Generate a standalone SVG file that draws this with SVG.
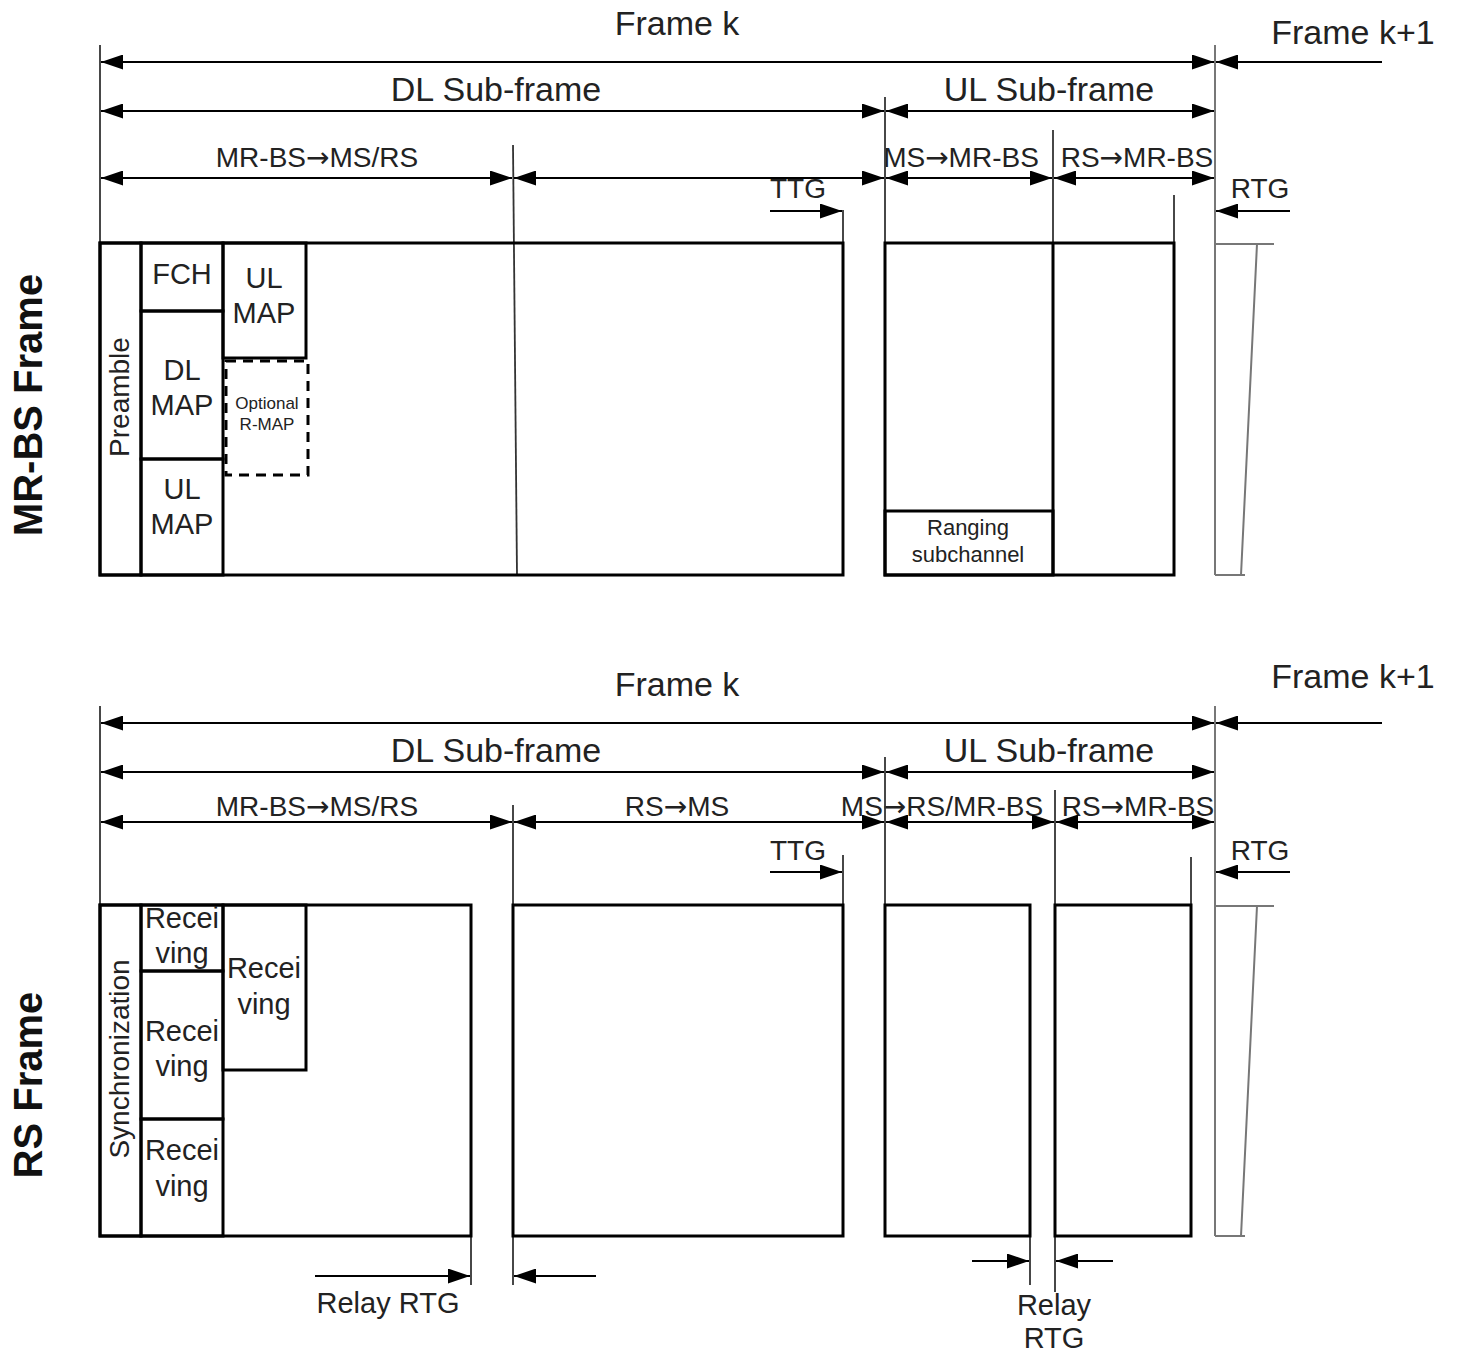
<svg xmlns="http://www.w3.org/2000/svg" width="1458" height="1355" viewBox="0 0 1458 1355">
<defs>
<marker id="ah" markerUnits="userSpaceOnUse" markerWidth="22" markerHeight="15" refX="22" refY="7.5" orient="auto-start-reverse" viewBox="0 0 22 15">
<path d="M0,0 L22,7.5 L0,15 z" fill="#000"/>
</marker>
</defs>
<style>
text{font-family:"Liberation Sans",Arial,sans-serif;fill:#222;text-anchor:middle}
.arr{font-family:"DejaVu Sans",sans-serif}
.big{font-size:34px}
.mid{font-size:28px}
.box{font-size:29px}
.side{font-size:40px;font-weight:bold;fill:#111}
.sm{font-size:17px}
.rg{font-size:22px}
.b{fill:none;stroke:#000;stroke-width:3}
.dash{fill:none;stroke:#000;stroke-width:3;stroke-dasharray:10,7}
.a{stroke:#000;stroke-width:1.8;fill:none;marker-start:url(#ah);marker-end:url(#ah)}
.a1{stroke:#000;stroke-width:1.8;fill:none;marker-end:url(#ah)}
.v{stroke:#333;stroke-width:1.8;fill:none}
.g{stroke:#777;stroke-width:2;fill:none}
</style>
<rect width="1458" height="1355" fill="#fff"/>

<!-- ===== MR-BS Frame (top) ===== -->
<g id="top-labels">
<text class="big" x="677" y="35">Frame k</text>
<text class="big" x="1353" y="44">Frame k+1</text>
<text class="big" x="496" y="101">DL Sub-frame</text>
<text class="big" x="1049" y="101">UL Sub-frame</text>
<text class="mid" x="317" y="167">MR-BS<tspan class="arr">→</tspan>MS/RS</text>
<text class="mid" x="961" y="167">MS<tspan class="arr">→</tspan>MR-BS</text>
<text class="mid" x="1137" y="167">RS<tspan class="arr">→</tspan>MR-BS</text>
<text class="mid" x="798" y="198">TTG</text>
<text class="mid" x="1260" y="198">RTG</text>
<text class="side" transform="translate(42,405) rotate(-90)">MR-BS Frame</text>
</g>

<g id="top-connectors">
<line class="v" x1="100" y1="45" x2="100" y2="575"/>
<line class="v" x1="513" y1="145" x2="517" y2="575"/>
<line class="v" x1="885" y1="97" x2="885" y2="243"/>
<line class="v" x1="1053" y1="130" x2="1053" y2="243"/>
<line class="v" x1="843" y1="210" x2="843" y2="243"/>
<line class="v" x1="1174" y1="195" x2="1174" y2="243"/>
<line class="g" x1="1215" y1="45" x2="1215" y2="575"/>
<line class="a" x1="101" y1="62" x2="1214" y2="62"/>
<line class="a1" x1="1382" y1="62" x2="1216" y2="62"/>
<line class="a" x1="101" y1="111" x2="884" y2="111"/>
<line class="a" x1="886" y1="111" x2="1214" y2="111"/>
<line class="a" x1="101" y1="178" x2="512" y2="178"/>
<line class="a" x1="514" y1="178" x2="884" y2="178"/>
<line class="a" x1="886" y1="178" x2="1052" y2="178"/>
<line class="a" x1="1054" y1="178" x2="1214" y2="178"/>
<line class="a1" x1="770" y1="211" x2="842" y2="211"/>
<line class="a1" x1="1290" y1="211" x2="1216" y2="211"/>
</g>

<g id="top-dl-box">
<rect class="b" x="100" y="243" width="743" height="332"/>
</g>
<g id="preamble">
<rect class="b" x="100" y="243" width="41" height="332"/>
<text class="mid" transform="translate(129,397) rotate(-90)">Preamble</text>
</g>
<g id="fch">
<rect class="b" x="141" y="243" width="82" height="68"/>
<text class="box" x="182" y="284">FCH</text>
</g>
<g id="dl-map">
<rect class="b" x="141" y="311" width="82" height="148"/>
<text class="box" x="182" y="380">DL</text>
<text class="box" x="182" y="415">MAP</text>
</g>
<g id="ul-map-1">
<rect class="b" x="141" y="459" width="82" height="116"/>
<text class="box" x="182" y="499">UL</text>
<text class="box" x="182" y="534">MAP</text>
</g>
<g id="ul-map-2">
<rect class="b" x="223" y="243" width="83" height="115"/>
<text class="box" x="264" y="288">UL</text>
<text class="box" x="264" y="323">MAP</text>
</g>
<g id="optional-rmap">
<rect class="dash" x="226" y="361" width="82" height="114"/>
<text class="sm" x="267" y="409">Optional</text>
<text class="sm" x="267" y="430">R-MAP</text>
</g>
<g id="top-ul-box">
<rect class="b" x="885" y="243" width="289" height="332"/>
<line class="b" x1="1053" y1="243" x2="1053" y2="575"/>
</g>
<g id="ranging">
<rect class="b" x="885" y="511" width="168" height="64"/>
<text class="rg" x="968" y="535">Ranging</text>
<text class="rg" x="968" y="562">subchannel</text>
</g>
<g id="top-next-frame">
<path class="g" d="M1215,244 H1274 M1257,244 L1241,575 M1215,575 H1245"/>
</g>

<!-- ===== RS Frame (bottom) ===== -->
<g id="bottom-labels">
<text class="big" x="677" y="696">Frame k</text>
<text class="big" x="1353" y="688">Frame k+1</text>
<text class="big" x="496" y="762">DL Sub-frame</text>
<text class="big" x="1049" y="762">UL Sub-frame</text>
<text class="mid" x="317" y="816">MR-BS<tspan class="arr">→</tspan>MS/RS</text>
<text class="mid" x="677" y="816">RS<tspan class="arr">→</tspan>MS</text>
<text class="mid" x="942" y="816">MS<tspan class="arr">→</tspan>RS/MR-BS</text>
<text class="mid" x="1138" y="816">RS<tspan class="arr">→</tspan>MR-BS</text>
<text class="mid" x="798" y="860">TTG</text>
<text class="mid" x="1260" y="860">RTG</text>
<text class="box" x="388" y="1313">Relay RTG</text>
<text class="box" x="1054" y="1315">Relay</text>
<text class="box" x="1054" y="1348">RTG</text>
<text class="side" transform="translate(42,1085) rotate(-90)">RS Frame</text>
</g>

<g id="bottom-connectors">
<line class="v" x1="100" y1="706" x2="100" y2="1236"/>
<line class="v" x1="513" y1="805" x2="513" y2="1285"/>
<line class="v" x1="885" y1="757" x2="885" y2="905"/>
<line class="v" x1="1055" y1="790" x2="1055" y2="1292"/>
<line class="v" x1="843" y1="855" x2="843" y2="905"/>
<line class="v" x1="1191" y1="857" x2="1191" y2="905"/>
<line class="v" x1="471" y1="1236" x2="471" y2="1285"/>
<line class="v" x1="1030" y1="1236" x2="1030" y2="1285"/>
<line class="g" x1="1215" y1="706" x2="1215" y2="1236"/>
<line class="a" x1="101" y1="723" x2="1214" y2="723"/>
<line class="a1" x1="1382" y1="723" x2="1216" y2="723"/>
<line class="a" x1="101" y1="772" x2="884" y2="772"/>
<line class="a" x1="886" y1="772" x2="1214" y2="772"/>
<line class="a" x1="101" y1="822" x2="512" y2="822"/>
<line class="a" x1="514" y1="822" x2="884" y2="822"/>
<line class="a" x1="886" y1="822" x2="1054" y2="822"/>
<line class="a" x1="1056" y1="822" x2="1214" y2="822"/>
<line class="a1" x1="770" y1="872" x2="842" y2="872"/>
<line class="a1" x1="1290" y1="872" x2="1216" y2="872"/>
<line class="a1" x1="315" y1="1276" x2="470" y2="1276"/>
<line class="a1" x1="596" y1="1276" x2="514" y2="1276"/>
<line class="a1" x1="972" y1="1261" x2="1029" y2="1261"/>
<line class="a1" x1="1113" y1="1261" x2="1056" y2="1261"/>
</g>

<g id="rs-box-1">
<rect class="b" x="100" y="905" width="371" height="331"/>
</g>
<g id="synchronization">
<rect class="b" x="100" y="905" width="41" height="331"/>
<text class="mid" transform="translate(129,1059) rotate(-90)">Synchronization</text>
</g>
<g id="receiving-1">
<rect class="b" x="141" y="905" width="82" height="66"/>
<text class="box" x="182" y="928">Recei</text>
<text class="box" x="182" y="963">ving</text>
</g>
<g id="receiving-2">
<rect class="b" x="141" y="971" width="82" height="148"/>
<text class="box" x="182" y="1041">Recei</text>
<text class="box" x="182" y="1076">ving</text>
</g>
<g id="receiving-3">
<rect class="b" x="141" y="1119" width="82" height="117"/>
<text class="box" x="182" y="1160">Recei</text>
<text class="box" x="182" y="1196">ving</text>
</g>
<g id="receiving-4">
<rect class="b" x="223" y="905" width="83" height="165"/>
<text class="box" x="264" y="978">Recei</text>
<text class="box" x="264" y="1014">ving</text>
</g>
<g id="rs-box-2">
<rect class="b" x="513" y="905" width="330" height="331"/>
</g>
<g id="rs-box-3">
<rect class="b" x="885" y="905" width="145" height="331"/>
</g>
<g id="rs-box-4">
<rect class="b" x="1055" y="905" width="136" height="331"/>
</g>
<g id="bottom-next-frame">
<path class="g" d="M1215,906 H1274 M1257,906 L1241,1236 M1215,1236 H1245"/>
</g>
</svg>
